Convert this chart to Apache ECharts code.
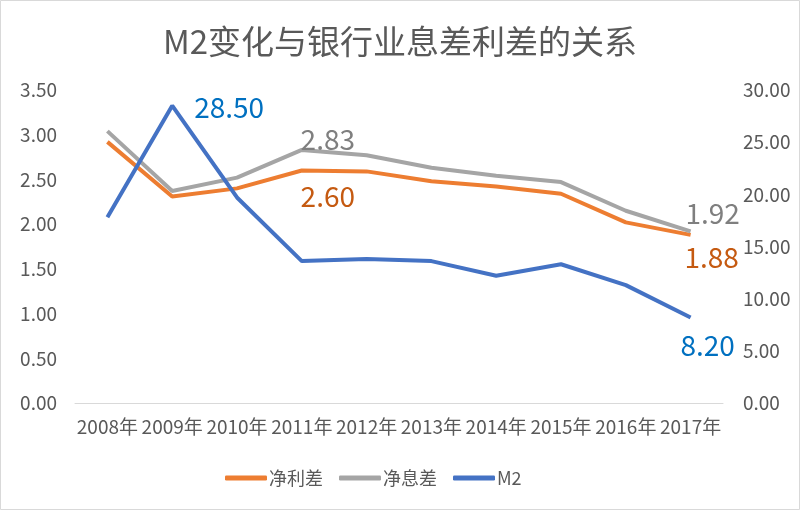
<!DOCTYPE html>
<html><head><meta charset="utf-8">
<script src="https://cdn.jsdelivr.net/npm/echarts@6/dist/echarts.min.js"></script>
<style>html,body{margin:0;padding:0;background:#fff}#c{width:800px;height:511px}</style>
</head><body><div id="c"></div>
<script>
const categories = ['2008年','2009年','2010年','2011年','2012年','2013年','2014年','2015年','2016年','2017年'];
const netProfitSpread = [2.92, 2.31, 2.40, 2.60, 2.59, 2.48, 2.42, 2.34, 2.02, 1.88];
const netInterestMargin = [3.04, 2.37, 2.52, 2.83, 2.77, 2.63, 2.54, 2.47, 2.15, 1.92];
const m2Growth = [17.8, 28.5, 19.7, 13.6, 13.8, 13.6, 12.2, 13.3, 11.3, 8.2];
const leftTicks = [0, 0.5, 1, 1.5, 2, 2.5, 3, 3.5];
const rightTicks = [0, 5, 10, 15, 20, 25, 30];

const font = '"Noto Sans CJK SC", "Noto Sans", sans-serif';
function withLabels(values, labelMap){
  return values.map((v,i)=> labelMap[i] ? {value:v, label:Object.assign({show:true}, labelMap[i])} : v);
}
const chart = echarts.init(document.getElementById('c'), null, {renderer:'canvas'});
chart.setOption({
  animation:false,
  backgroundColor:'#fff',
  title:{text:'M2变化与银行业息差利差的关系', left:'center', top:20,
    textStyle:{fontFamily:font, fontSize:33, fontWeight:'normal', color:'#595959'}},
  legend:{left:220, top:464, itemWidth:42, itemHeight:5, itemGap:16,
    icon:'roundRect',
    textStyle:{fontFamily:font, fontSize:18, color:'#595959', padding:[0,0,0,-3]},
    data:['净利差','净息差','M2']},
  grid:{left:75, right:77, top:90, bottom:108},
  xAxis:{type:'category', data:categories, boundaryGap:true,
    axisLine:{lineStyle:{color:'#D9D9D9', width:1}}, axisTick:{show:false},
    axisLabel:{fontFamily:font, fontSize:19, color:'#595959', margin:14, interval:0}},
  yAxis:[
    {type:'value', min:leftTicks[0], max:leftTicks[leftTicks.length-1], interval:0.5,
     splitLine:{show:false}, axisLine:{show:false}, axisTick:{show:false},
     axisLabel:{fontFamily:font, fontSize:19, color:'#595959', margin:18, formatter:v=>v.toFixed(2)}},
    {type:'value', min:rightTicks[0], max:rightTicks[rightTicks.length-1], interval:5,
     splitLine:{show:false}, axisLine:{show:false}, axisTick:{show:false},
     axisLabel:{fontFamily:font, fontSize:19, color:'#595959', margin:20, formatter:v=>v.toFixed(2)}}
  ],
  series:[
    {name:'净利差', type:'line', yAxisIndex:0, symbol:'circle', symbolSize:0, showSymbol:true, lineStyle:{color:'#ED7D31', width:4}, itemStyle:{color:'#ED7D31'},
     label:{show:false, fontFamily:font, fontSize:28, color:'#C55A11', formatter:p=>p.value.toFixed(2)},
     data:withLabels(netProfitSpread, {3:{position:'bottom', offset:[26,6], distance:6}, 9:{position:'bottom', offset:[21,4], distance:4}})},
    {name:'净息差', type:'line', yAxisIndex:0, symbol:'circle', symbolSize:0, showSymbol:true, lineStyle:{color:'#A5A5A5', width:4}, itemStyle:{color:'#A5A5A5'},
     label:{show:false, fontFamily:font, fontSize:28, color:'#7F7F7F', formatter:p=>p.value.toFixed(2)},
     data:withLabels(netInterestMargin, {3:{position:'top', offset:[26,7], distance:4}, 9:{position:'top', offset:[22,0], distance:4}})},
    {name:'M2', type:'line', yAxisIndex:1, symbol:'circle', symbolSize:0, showSymbol:true, lineStyle:{color:'#4472C4', width:4}, itemStyle:{color:'#4472C4'},
     label:{show:false, fontFamily:font, fontSize:28, color:'#0070C0', formatter:p=>p.value.toFixed(2)},
     data:withLabels(m2Growth, {1:{position:'right', offset:[2,2], distance:20}, 9:{position:'bottom', offset:[17,4], distance:10}})}
  ],
  graphic:[{type:'rect', shape:{x:0.5,y:0.5,width:799,height:509}, style:{fill:'none', stroke:'#D9D9D9', lineWidth:1}, silent:true}]
});
</script></body></html>
